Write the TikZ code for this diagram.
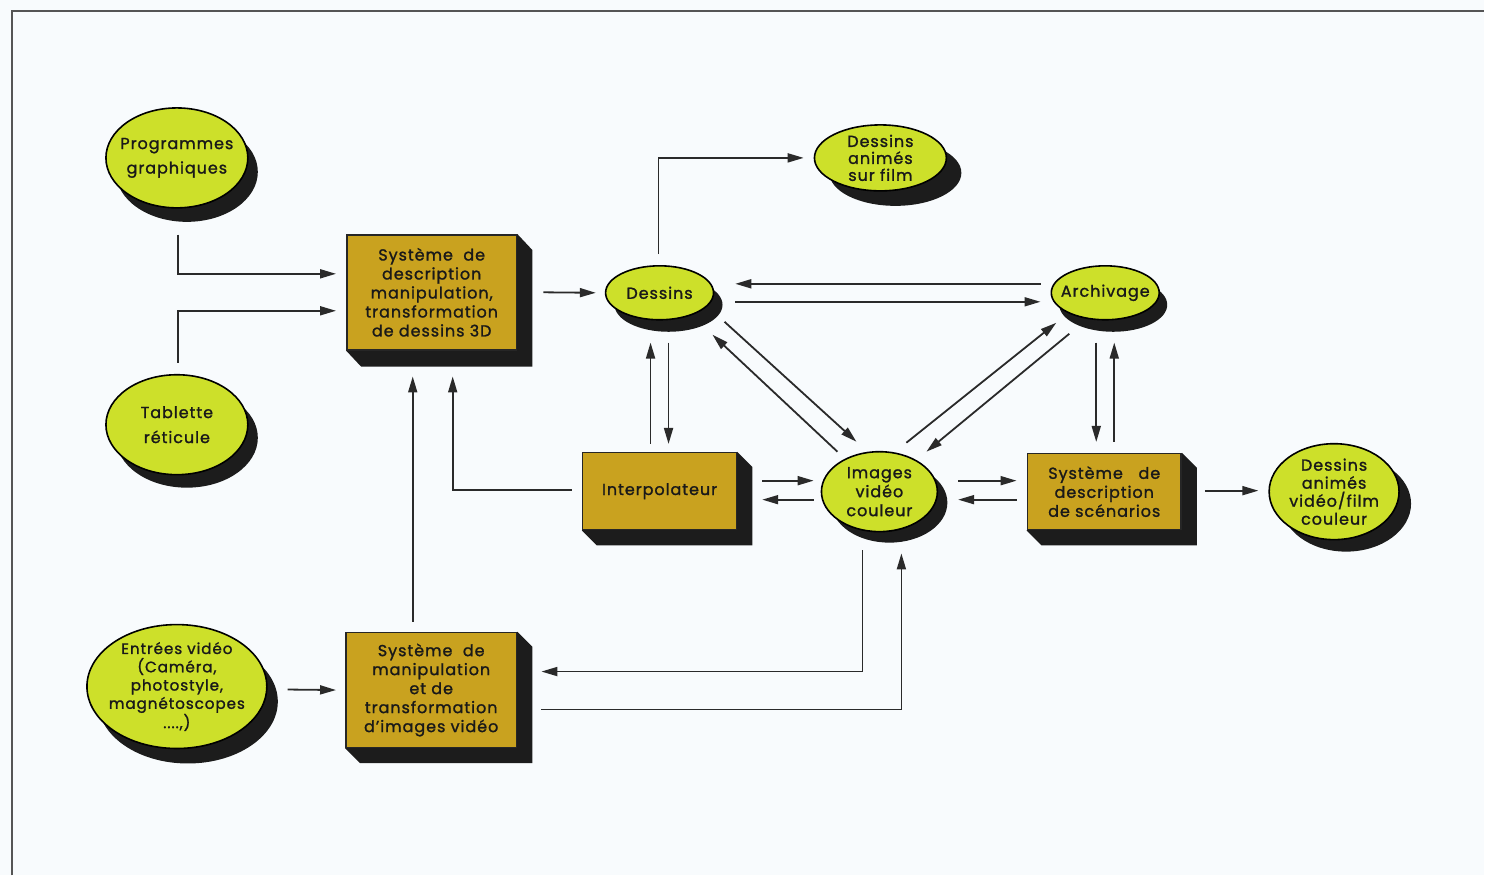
\documentclass[tikz,border=0pt]{standalone}
\usepackage{fontspec}
\setmainfont{Poppins}[FakeBold=1.3, LetterSpace=6]
\usetikzlibrary{shapes.geometric,arrows.meta,calc,shadows}
\definecolor{ellc}{HTML}{CDE02A}
\definecolor{boxc}{HTML}{C9A21F}
\definecolor{shadowc}{HTML}{1C1C1C}
\definecolor{bgc}{HTML}{F8FBFD}
\definecolor{linec}{HTML}{2A2A2A}
\definecolor{framec}{HTML}{555555}
\pgfdeclarelayer{back}
\pgfdeclarelayer{shad}
\pgfsetlayers{back,shad,main}
\newcommand\boxextrude[3]{\fill[shadowc] (#1.north east) -- ++(#2,#3) -- ($(#1.south east)+(#2,#3)$) -- ($(#1.south west)+(#2,#3)$) -- (#1.south west) -- cycle;}
\tikzset{
  ell/.style={ellipse, draw=black, line width=1.6pt, fill=ellc, inner sep=0pt},
  lbl/.style={inner sep=0pt, align=center, text=black!90, font=\fontsize{16}{19}\selectfont},
  ebox/.style={rectangle, draw=black!85, line width=1.5pt, fill=boxc, inner sep=0pt, align=center, text=black!90,
    font=\fontsize{16}{19}\selectfont},
  arr/.style={draw=linec, line width=1.8pt, -{Triangle[length=16pt,width=9pt]}},
  sh/.style 2 args={drop shadow={shadow xshift=#1pt, shadow yshift=-#2pt, fill=shadowc, opacity=1}}
}
\begin{document}
\begin{tikzpicture}[x=1pt,y=-1pt]
\begin{pgfonlayer}{back}
\fill[bgc] (0,0) rectangle (1485,876);
\draw[framec, line width=2pt] (12,876) -- (12,11) -- (1485,11);
\end{pgfonlayer}
\useasboundingbox (0,0) rectangle (1485,876);

% ellipses
\node[ell, sh={10}{14}, minimum width=142pt, minimum height=100pt] (pg) at (177,158) {};
\node[lbl, font=\fontsize{16}{24.5}\selectfont] (pgt) at (pg) {Programmes\\graphiques};
\node[ell, sh={10}{13}, minimum width=142pt, minimum height=100pt] (tr) at (177,425) {};
\node[lbl, font=\fontsize{16}{25}\selectfont] (trt) at (tr) {Tablette\\réticule};
\node[ell, sh={11}{15}, minimum width=180pt, minimum height=124pt] (ev) at (177,687) {};
\node[lbl, font=\fontsize{15.2}{18.3}\selectfont] (evt) at (ev) {Entrées vidéo\\(Caméra,\\photostyle,\\magnétoscopes\\....,)};
\node[ell, sh={9}{12}, minimum width=108pt, minimum height=54pt] (de) at (660,293) {};
\node[lbl] (det) at (de) {Dessins};
\node[ell, sh={15}{15}, minimum width=132pt, minimum height=66pt] (dasf) at (881,158) {};
\node[lbl, font=\fontsize{16}{17}\selectfont] (dasft) at (dasf) {Dessins\\animés\\sur film};
\node[ell, sh={8}{12}, minimum width=108pt, minimum height=54pt] (ar) at (1106,293) {};
\node[lbl] (art) at (ar) {Archivage};
\node[ell, sh={10}{11}, minimum width=116pt, minimum height=80pt] (ivc) at (880,492) {};
\node[lbl] (ivct) at (ivc) {Images\\vidéo\\couleur};
\node[ell, sh={12}{12}, minimum width=130pt, minimum height=96pt] (davf) at (1335,492) {};
\node[lbl, font=\fontsize{16}{18}\selectfont] (davft) at (davf) {Dessins\\animés\\vidéo/film\\couleur};

% boxes
\node[ebox, minimum width=170pt, minimum height=115pt] (A) at (432,292.5) {Système~~de\\description\\manipulation,\\transformation\\de dessins 3D};
\node[ebox, minimum width=154pt, minimum height=77pt] (B) at (660,491.5) {Interpolateur};
\node[ebox, minimum width=154pt, minimum height=76pt] (C) at (1105,492) {Système~~~de\\description\\de scénarios};
\node[ebox, minimum width=171pt, minimum height=115pt] (D) at (431.5,690.5) {Système~~de\\manipulation\\et de\\transformation\\d’images vidéo};

\begin{pgfonlayer}{shad}
\boxextrude{A}{15}{16}
\boxextrude{B}{15}{15}
\boxextrude{C}{15}{15}
\boxextrude{D}{15}{15}
\end{pgfonlayer}

% connectors
\draw[arr] ($(pg.south)+(1,26)$) |- ($(A.west)+(-10,-18.5)$);
\draw[arr] ($(tr.north)+(1,-11)$) |- ($(A.west)+(-10,18.5)$);
\draw[arr] ($(A.east)+(26,0)$) -- ($(de.west)+(-9,0)$);
\draw[arr] ($(de.north)+(-1,-11)$) |- ($(dasf.west)+(-10,0)$);
\draw[arr] ($(ar.west)+(-10,-9)$) -- ($(de.east)+(21,-9)$);
\draw[arr] ($(de.east)+(21,9)$) -- ($(ar.west)+(-10,9)$);
\draw[arr] ($(B.north)+(-9,-8)$) -- ($(de.south)+(-9,22)$);
\draw[arr] ($(de.south)+(9,22)$) -- ($(B.north)+(9,-8)$);
\draw[arr] ($(B.west)+(-10,-1.5)$) -| ($(A.south)+(21,26)$);
\draw[arr] ($(D.north)+(-18.5,-10)$) -- ($(A.south)+(-19,26)$);
\draw[arr] ($(de.center)+(65,29)$) -- ($(ivc.center)+(-23,-50)$);
\draw[arr] ($(ivc.center)+(-42,-40)$) -- ($(de.center)+(53,42)$);
\draw[arr] ($(ivc.center)+(27,-49)$) -- ($(ar.center)+(-49,30)$);
\draw[arr] ($(ar.center)+(-36,41)$) -- ($(ivc.center)+(47,-40)$);
\draw[arr] ($(ar.south)+(-9,22)$) -- ($(C.north)+(-8,-11)$);
\draw[arr] ($(C.north)+(10,-11)$) -- ($(ar.south)+(9,22)$);
\draw[arr] ($(B.east)+(25,-10.5)$) -- ($(ivc.west)+(-7,-11)$);
\draw[arr] ($(ivc.west)+(-7,8)$) -- ($(B.east)+(25,8.5)$);
\draw[arr] ($(ivc.east)+(20,-11)$) -- ($(C.west)+(-10,-11)$);
\draw[arr] ($(C.west)+(-10,8)$) -- ($(ivc.east)+(20,8)$);
\draw[arr] ($(C.east)+(23,-1)$) -- ($(davf.west)+(-10,-1)$);
\draw[arr] ($(ev.east)+(20,3)$) -- ($(D.west)+(-9,0)$);
\draw[arr] ($(ivc.south)+(-17,18)$) |- ($(D.east)+(24,-18.5)$);
\draw[arr] ($(D.east)+(24,19.5)$) -| ($(ivc.south)+(22,21)$);
\end{tikzpicture}
\end{document}
